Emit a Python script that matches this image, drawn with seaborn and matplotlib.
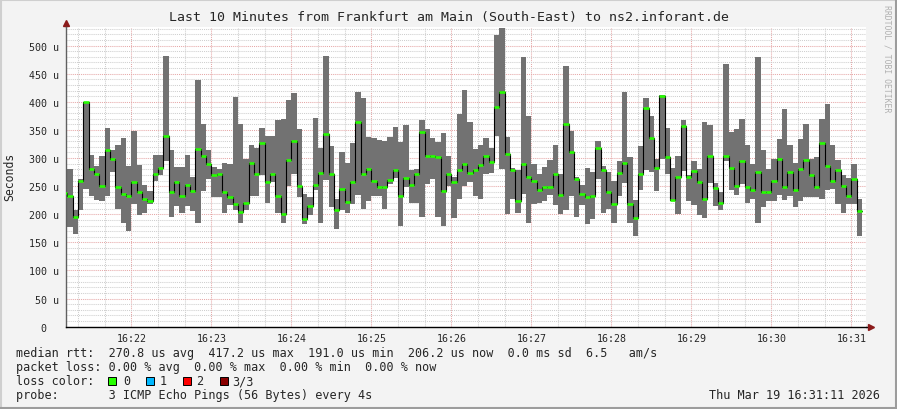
import numpy as np
import pandas as pd
import seaborn as sns
import matplotlib
matplotlib.use("Agg")
import matplotlib.pyplot as plt
import matplotlib.dates as mdates
from matplotlib.ticker import MultipleLocator, FuncFormatter
from matplotlib.patches import Rectangle

# ping-Werte in Mikrosekunden, ein Eintrag pro 4s-Schritt
rtt_max = [351, 280, 208, 263, 400, 306, 286, 304, 354, 315, 324, 335, 286, 349, 288,
           252, 242, 305, 306, 482, 315, 284, 284, 305, 266, 439, 361, 315, 284, 280,
           291, 290, 408, 361, 299, 324, 317, 354, 340, 340, 367, 370, 404, 415, 351,
           236, 230, 372, 318, 482, 321, 227, 310, 292, 326, 417, 406, 338, 335, 332,
           331, 338, 355, 329, 358, 279, 281, 367, 352, 335, 329, 345, 304, 266, 379,
           421, 365, 316, 324, 336, 317, 518, 532, 337, 283, 278, 479, 374, 289, 272,
           284, 296, 324, 271, 464, 348, 267, 252, 282, 275, 330, 286, 275, 260, 295,
           418, 301, 226, 322, 406, 374, 298, 413, 354, 283, 303, 367, 269, 294, 280,
           364, 358, 255, 239, 467, 346, 351, 370, 324, 289, 479, 314, 280, 299, 333,
           388, 324, 292, 333, 361, 299, 301, 370, 397, 324, 296, 269, 265, 290, 228]
rtt_min = [218, 178, 165, 207, 245, 233, 226, 224, 233, 275, 210, 185, 171, 218, 198,
           203, 218, 259, 269, 295, 195, 214, 203, 214, 205, 185, 242, 263, 230, 230,
           202, 217, 207, 185, 207, 232, 232, 269, 220, 257, 202, 185, 250, 271, 230,
           182, 198, 244, 184, 261, 213, 174, 207, 203, 218, 235, 210, 224, 233, 232,
           210, 254, 265, 180, 248, 220, 220, 196, 254, 263, 195, 180, 250, 194, 227,
           251, 257, 232, 227, 272, 273, 340, 280, 200, 227, 203, 236, 185, 218, 220,
           223, 235, 216, 201, 207, 233, 196, 216, 183, 192, 263, 203, 209, 185, 233,
           255, 185, 162, 244, 278, 275, 242, 299, 271, 224, 201, 277, 224, 216, 198,
           194, 255, 214, 207, 294, 244, 235, 254, 220, 227, 185, 213, 224, 224, 235,
           226, 233, 213, 224, 230, 230, 230, 227, 244, 245, 218, 203, 218, 218, 162]
rtt_median = [238, 233, 196, 260, 400, 280, 271, 250, 314, 299, 249, 236, 232, 257, 239,
              228, 224, 272, 283, 340, 240, 258, 232, 252, 242, 316, 303, 290, 269, 271,
              240, 231, 219, 204, 220, 292, 272, 326, 257, 271, 232, 201, 297, 330, 250,
              191, 214, 252, 274, 342, 272, 208, 245, 221, 257, 364, 272, 281, 260, 248,
              248, 261, 279, 232, 265, 252, 272, 346, 304, 304, 301, 242, 271, 257, 278,
              289, 274, 278, 287, 304, 293, 390, 417, 307, 278, 224, 289, 267, 260, 244,
              248, 249, 271, 235, 361, 310, 262, 236, 230, 233, 317, 278, 239, 219, 274,
              292, 219, 194, 271, 389, 336, 282, 411, 301, 226, 267, 357, 267, 277, 257,
              228, 303, 247, 220, 303, 283, 250, 294, 249, 244, 276, 240, 239, 260, 299,
              249, 276, 244, 280, 296, 269, 249, 326, 285, 260, 278, 250, 233, 262, 206]

start_time = "2026-03-19 16:21:08"
view_start = "2026-03-19 16:21:11"
view_end = "2026-03-19 16:31:11"
y_ticks_label = "u"

title = "Last 10 Minutes from Frankfurt am Main (South-East) to ns2.inforant.de"
legend_lines = [
    "median rtt:  270.8 us avg  417.2 us max  191.0 us min  206.2 us now  0.0 ms sd  6.5   am/s",
    "packet loss: 0.00 % avg  0.00 % max  0.00 % min  0.00 % now",
    "loss color:",
    "probe:       3 ICMP Echo Pings (56 Bytes) every 4s",
]
loss_labels = ["0", "1", "2", "3/3"]
loss_colors = ["#26ff00", "#00b8ff", "#ff0000", "#8a0000"]
stamp = "Thu Mar 19 16:31:11 2026"

W, H = 897, 410
sns.set_style("white")
plt.rcParams["font.family"] = ["DejaVu Sans Mono"]

fig = plt.figure(figsize=(W / 100, H / 100), dpi=100, facecolor="#f3f3f3")
ax = fig.add_axes([66 / W, (H - 327.7) / H, 800 / W, 300.2 / H])
ax.set_facecolor("white")

n = len(rtt_median)
edges = pd.date_range(start_time, periods=n + 1, freq="4s")
hi = np.array(rtt_max + [rtt_max[-1]])
lo = np.array(rtt_min + [rtt_min[-1]])
med = np.array(rtt_median + [rtt_median[-1]])

# Rauch (min..max)
ax.fill_between(edges, lo, hi, step="post", color="#727272", lw=0, zorder=2)
# Median als Treppenlinie + gruene Striche
sns.lineplot(x=edges, y=med, drawstyle="steps-post", color="black", lw=0.8,
             ax=ax, zorder=3, estimator=None, sort=False)
ax.hlines(rtt_median, edges[:-1], edges[1:], colors=loss_colors[0], lw=1.9, zorder=4)

ax.set_xlim(pd.Timestamp(view_start), pd.Timestamp(view_end))
ax.set_ylim(0, 534)
ax.set_xlabel("")
ax.set_ylabel("")

# Gitter
ax.xaxis.set_major_locator(mdates.MinuteLocator())
ax.xaxis.set_minor_locator(mdates.SecondLocator(bysecond=[20, 40]))
ax.xaxis.set_major_formatter(mdates.DateFormatter("%H:%M"))
ax.yaxis.set_major_locator(MultipleLocator(50))
ax.yaxis.set_minor_locator(MultipleLocator(10))
ax.yaxis.set_major_formatter(FuncFormatter(lambda v, p: f"{int(v)} {y_ticks_label}" if v else "0  "))
ax.grid(which="minor", color="#cfcfcf", lw=0.75, linestyle=(0, (1, 1)))
ax.grid(which="major", color="#e6a8a8", lw=0.75, linestyle=(0, (1, 1)))
ax.set_axisbelow(True)
ax.tick_params(which="major", length=3, width=0.7, color="#555555", labelsize=7.2, pad=2)
ax.tick_params(which="minor", length=2, width=0.6, color="#888888")
ax.tick_params(axis="x", which="major", pad=1.5)

for s in ["top", "right"]:
    ax.spines[s].set_visible(False)
ax.spines["bottom"].set_color("black")
ax.spines["bottom"].set_linewidth(1)
ax.spines["left"].set_color("#606060")
ax.spines["left"].set_linewidth(1)

# Pfeile an den Achsen
ax.plot([1, 1.005], [0, 0], transform=ax.transAxes, color="black", lw=1, clip_on=False)
ax.plot([1.0065], [0], marker=">", ms=4.5, color="#8b1a1a", transform=ax.transAxes, clip_on=False)
ax.plot([0, 0], [1, 1.01], transform=ax.transAxes, color="#606060", lw=1, clip_on=False)
ax.plot([0], [1.012], marker="^", ms=4.5, color="#8b1a1a", transform=ax.transAxes, clip_on=False)

fig.text(0.5, 1 - 18 / H, title, ha="center", va="center", fontsize=9.5)
fig.text(10 / W, 1 - 177 / H, "Seconds", rotation=90, ha="center", va="center", fontsize=8.3)
fig.text(887 / W, 1 - 5 / H, "RRDTOOL / TOBI OETIKER", rotation=270, ha="center", va="top",
         fontsize=5.9, color="#b0b0b0")

# Legende
ys = [354, 368, 382, 396]
for txt, y in zip(legend_lines, ys):
    fig.text(15.5 / W, 1 - y / H, txt, ha="left", va="center", fontsize=8.5)
box_x = [108, 145.5, 182.5, 219.5]
lab_x = [123, 159.5, 196, 232]
for bx, lx, c, lab in zip(box_x, lab_x, loss_colors, loss_labels):
    fig.patches.append(Rectangle((bx / W, 1 - 386 / H), 8 / W, 8 / H, transform=fig.transFigure,
                                 facecolor=c, edgecolor="black", lw=0.7))
    fig.text(lx / W, 1 - 382 / H, lab, ha="left", va="center", fontsize=8.5)
fig.text(880 / W, 1 - 396 / H, stamp, ha="right", va="center", fontsize=8.5)

# Rahmen
fig.add_artist(plt.Line2D([0, 1], [1 - 1 / H, 1 - 1 / H], transform=fig.transFigure, color="#cfcfcf", lw=1.5))
fig.add_artist(plt.Line2D([1 / W, 1 / W], [0, 1], transform=fig.transFigure, color="#cfcfcf", lw=1.5))
fig.add_artist(plt.Line2D([0, 1], [1 / H, 1 / H], transform=fig.transFigure, color="#9c9c9c", lw=1.5))
fig.add_artist(plt.Line2D([1 - 1 / W, 1 - 1 / W], [0, 1], transform=fig.transFigure, color="#9c9c9c", lw=1.5))

fig.savefig("out.png", dpi=100, facecolor=fig.get_facecolor())
